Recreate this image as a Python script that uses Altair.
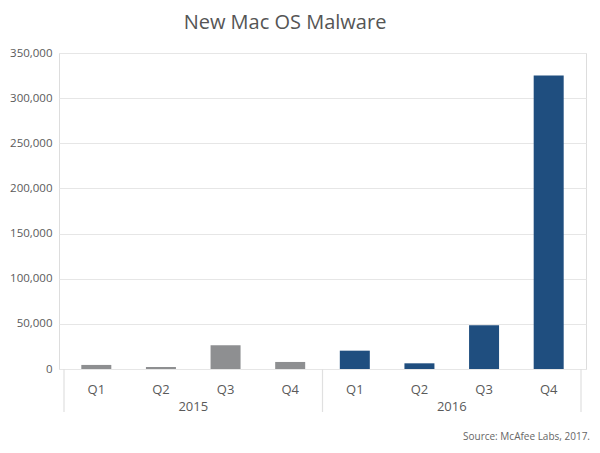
import altair as alt
import pandas as pd

title_text = "New Mac OS Malware"
source_text = "Source: McAfee Labs, 2017."
years = ["2015", "2015", "2015", "2015", "2016", "2016", "2016", "2016"]
quarters = ["Q1", "Q2", "Q3", "Q4", "Q1", "Q2", "Q3", "Q4"]
values = [4500, 2200, 26300, 7800, 20300, 6300, 48500, 325000]
year_labels = ["2015", "2016"]
y_ticks = [0, 50000, 100000, 150000, 200000, 250000, 300000, 350000]

GRAY = "#8e8f91"
BLUE = "#1f4e7f"
FONT = "Open Sans"
TXT = "#5a5a5a"

df = pd.DataFrame({
    "year": years,
    "quarter": quarters,
    "value": values,
    "pos": [i + 0.5 for i in range(len(values))],
})
year_df = pd.DataFrame({"year": year_labels, "pos": [2.0, 6.0]})
div_df = pd.DataFrame({"pos": [0, 4, 8]})

W, H = 527, 316
xscale = alt.Scale(domain=[0, 8], nice=False, zero=False)
yscale = alt.Scale(domain=[0, 350000], nice=False)

bars = alt.Chart(df).mark_bar(size=30).encode(
    x=alt.X("pos:Q", scale=xscale, axis=None),
    y=alt.Y("value:Q", scale=yscale, title=None,
            axis=alt.Axis(values=y_ticks, labelExpr="format(datum.value, ',')",
                          domain=False, ticks=False,
                          labelPadding=7, labelFont=FONT, labelFontSize=11.5,
                          labelColor=TXT, gridColor="#e6e6e6", gridWidth=1.2)),
    color=alt.Color("year:N", scale=alt.Scale(domain=year_labels, range=[GRAY, BLUE]), legend=None),
)

qlabels = alt.Chart(df).mark_text(font=FONT, fontSize=13, color=TXT, baseline="middle").encode(
    x=alt.X("pos:Q", scale=xscale),
    y=alt.value(337),
    text="quarter:N",
)

ylabels = alt.Chart(year_df).mark_text(font=FONT, fontSize=13, color=TXT, baseline="middle").encode(
    x=alt.X("pos:Q", scale=xscale),
    y=alt.value(354),
    text="year:N",
)

dividers = alt.Chart(div_df).mark_rule(color="#e0e0e0", strokeWidth=1.2).encode(
    x=alt.X("pos:Q", scale=xscale),
    y=alt.value(H),
    y2=alt.value(359),
)

title = alt.Chart(pd.DataFrame({"t": [title_text]})).mark_text(
    font=FONT, fontSize=20, color="#555555", baseline="middle", align="center"
).encode(x=alt.value(226), y=alt.value(-30), text="t:N")

source = alt.Chart(pd.DataFrame({"t": [source_text]})).mark_text(
    font=FONT, fontSize=10, color="#666666", baseline="middle", align="left"
).encode(x=alt.value(404), y=alt.value(384), text="t:N")

chart = alt.layer(bars, dividers, qlabels, ylabels, title, source).properties(
    width=W, height=H,
    autosize=alt.AutoSizeParams(type="none"),
    padding={"left": 51, "top": 45, "right": 6, "bottom": 76},
).configure_view(stroke=None).configure(background="white")

chart.save("out.html", embed_options={"renderer": "svg", "actions": False})
